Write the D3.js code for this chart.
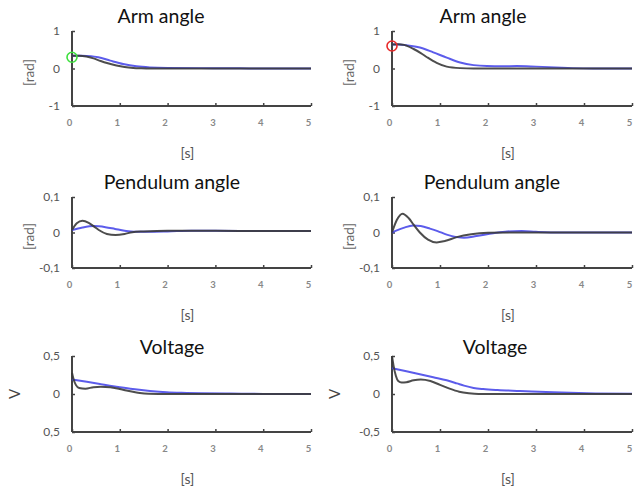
<!DOCTYPE html>
<html><head><meta charset="utf-8">
<script src="https://cdn.jsdelivr.net/npm/d3@7"></script>
<style>html,body{margin:0;padding:0;background:#fff;}svg{display:block;}</style>
</head><body>
<svg id="c" width="643" height="492"></svg>
<script>
// ---- data ----
const xTicks = [0, 1, 2, 3, 4, 5];
const titles = ["Arm angle", "Pendulum angle", "Voltage"];
const yLabels = ["[rad]", "[rad]", "V"];
const yTicksArm = [-1, 0, 1];
const yTickLabelsArm = ["-1", "0", "1"];
const yTicksPend = [-0.1, 0, 0.1];
const yTickLabelsPend = ["-0,1", "0", "0,1"];
const yTicksVolt = [-0.5, 0, 0.5];
const yTickLabelsVoltLeft = ["0,5", "0", "0,5"];
const yTickLabelsVoltRight = ["-0,5", "0", "0,5"];

// Arm angle, left (initial 0.3 rad)
const armL_t_black = [0, 0.15, 0.3, 0.45, 0.6, 0.75, 0.93, 1.1, 1.28, 1.45, 1.65, 2, 3, 4, 5];
const armL_black   = [0.34, 0.34, 0.32, 0.27, 0.2, 0.14, 0.08, 0.04, 0.015, 0.005, 0, 0, 0, 0, 0];
const armL_t_blue  = [0, 0.2, 0.4, 0.55, 0.8, 1.07, 1.35, 1.63, 2.0, 2.7, 3.3, 3.8, 4.5, 5];
const armL_blue    = [0.34, 0.34, 0.33, 0.3, 0.21, 0.12, 0.06, 0.03, 0.015, 0.01, 0.008, 0.002, 0, 0];
// Arm angle, right (initial 0.6 rad)
const armR_t_black = [0, 0.12, 0.25, 0.45, 0.6, 0.73, 0.93, 1.14, 1.42, 1.7, 2, 3, 4, 5];
const armR_black   = [0.64, 0.65, 0.63, 0.52, 0.41, 0.3, 0.15, 0.05, 0.01, 0, 0, 0, 0, 0];
const armR_t_blue  = [0, 0.15, 0.3, 0.58, 0.86, 1.14, 1.42, 1.7, 1.98, 2.3, 2.6, 3.0, 3.4, 3.75, 4.2, 5];
const armR_blue    = [0.64, 0.64, 0.62, 0.56, 0.43, 0.29, 0.16, 0.09, 0.065, 0.06, 0.065, 0.05, 0.03, 0.01, 0, 0];
// Pendulum angle, left
const pendL_t_black = [0, 0.1, 0.22, 0.35, 0.45, 0.56, 0.73, 0.91, 1.1, 1.26, 1.5, 2.0, 3.0, 4.0, 5.0];
const pendL_black   = [0.007, 0.026, 0.033, 0.027, 0.018, 0.007, -0.004, -0.007, -0.004, 0.001, 0.003, 0.005, 0.005, 0.004, 0.004];
const pendL_t_blue  = [0, 0.22, 0.46, 0.7, 0.9, 1.1, 1.3, 1.6, 2.0, 2.5, 3.0, 4.0, 5.0];
const pendL_blue    = [0.007, 0.014, 0.018, 0.015, 0.01, 0.005, 0.002, 0.002, 0.003, 0.005, 0.005, 0.004, 0.004];
// Pendulum angle, right
const pendR_t_black = [0, 0.1, 0.22, 0.35, 0.45, 0.58, 0.75, 0.93, 1.1, 1.35, 1.65, 2.0, 2.5, 3.0, 4.0, 5.0];
const pendR_black   = [0, 0.035, 0.053, 0.04, 0.022, 0.0, -0.02, -0.028, -0.024, -0.013, -0.005, -0.001, 0, 0, 0, 0];
const pendR_t_blue  = [0, 0.24, 0.44, 0.6, 0.79, 0.95, 1.14, 1.35, 1.5, 1.76, 2.11, 2.4, 2.7, 3.0, 3.5, 4.0, 5.0];
const pendR_blue    = [0, 0.013, 0.02, 0.018, 0.011, 0.004, -0.006, -0.013, -0.015, -0.01, -0.002, 0.003, 0.004, 0.002, 0, 0, 0];
// Voltage, left
const voltL_t_black = [0, 0.03, 0.08, 0.15, 0.28, 0.45, 0.6, 0.8, 1.0, 1.14, 1.3, 1.42, 1.6, 2, 3, 4, 5];
const voltL_black   = [0.28, 0.2, 0.12, 0.08, 0.07, 0.09, 0.097, 0.09, 0.065, 0.045, 0.025, 0.012, 0.003, 0, 0, 0, 0];
const voltL_t_blue  = [0, 0.31, 0.6, 0.79, 1.0, 1.27, 1.63, 1.98, 2.4, 2.7, 3.3, 4.0, 5.0];
const voltL_blue    = [0.19, 0.16, 0.13, 0.11, 0.09, 0.066, 0.04, 0.022, 0.014, 0.01, 0.005, 0.001, 0];
// Voltage, right
const voltR_t_black = [0, 0.03, 0.08, 0.13, 0.2, 0.3, 0.45, 0.6, 0.8, 1.0, 1.2, 1.4, 1.6, 1.8, 2.5, 3.5, 5];
const voltR_black   = [0.5, 0.38, 0.24, 0.17, 0.15, 0.155, 0.18, 0.19, 0.17, 0.12, 0.07, 0.03, 0.01, 0, 0, 0, 0];
const voltR_t_blue  = [0, 0.3, 0.58, 0.86, 1.14, 1.35, 1.5, 1.7, 1.9, 2.2, 2.67, 3.36, 4.06, 5.0];
const voltR_blue    = [0.34, 0.3, 0.26, 0.22, 0.18, 0.14, 0.11, 0.08, 0.065, 0.052, 0.04, 0.022, 0.01, 0.004];

// ---- drawing ----
const svg = d3.select("#c");
const cols = [{x0: 72, x1: 311}, {x0: 392, x1: 632}];
const rows = [{y0: 31, y1: 106}, {y0: 197, y1: 268}, {y0: 356, y1: 432}];
const FONT = "Lato, 'Open Sans', sans-serif";

function panel(ci, ri, yDomain, yTicks, yTickLabels, blackT, blackV, blueT, blueV, marker) {
  const c = cols[ci], r = rows[ri];
  const x = d3.scaleLinear().domain([0, 5]).range([c.x0, c.x1]);
  const y = d3.scaleLinear().domain(yDomain).range([r.y1, r.y0]);
  const g = svg.append("g");

  // title
  g.append("text").attr("x", ci === 0 ? [161, 172, 172][ri] : [483, 492, 495][ri])
    .attr("y", [23, 189, 354][ri])
    .attr("text-anchor", "middle").attr("font-family", FONT)
    .attr("font-size", 19.5).attr("fill", "#111").text(titles[ri]);

  // axes
  const xAxis = d3.axisBottom(x).tickValues(xTicks).tickSize(-3).tickPadding(13).tickFormat(d3.format("d"));
  const xg = g.append("g").attr("transform", `translate(0,${r.y1})`).call(xAxis);
  xg.select(".domain").attr("stroke", "#444").attr("stroke-width", 2).attr("d", `M${c.x0},0H${c.x1}`);
  xg.selectAll(".tick line").attr("stroke", "#444").attr("stroke-width", 1.5);
  xg.selectAll(".tick text").attr("font-family", FONT).attr("font-size", 9.5).attr("font-weight", "bold")
    .attr("fill", "#888").attr("dx", -3);

  const yAxis = d3.axisLeft(y).tickValues(yTicks).tickSize(-3).tickPadding(12)
    .tickFormat((d, i) => yTickLabels[i]);
  const yg = g.append("g").attr("transform", `translate(${c.x0},0)`).call(yAxis);
  yg.select(".domain").attr("stroke", "#444").attr("stroke-width", 2).attr("d", `M0,${r.y0}V${r.y1}`);
  yg.selectAll(".tick line").attr("stroke", "#444").attr("stroke-width", 1.5);
  yg.selectAll(".tick text").attr("font-family", FONT).attr("font-size", 12).attr("fill", "#555");

  // axis labels
  g.append("text").attr("x", (c.x0 + c.x1) / 2 - 4).attr("y", r.y1 + 52)
    .attr("text-anchor", "middle").attr("font-family", FONT).attr("font-size", 14)
    .attr("fill", "#555").text("[s]");
  const ylx = ri === 2 ? c.x0 - 52 : c.x0 - 38;
  const yly = ri === 2 ? y(0) : y(0) + 4;
  g.append("text").attr("transform", `translate(${ylx},${yly}) rotate(-90)`)
    .attr("text-anchor", "middle").attr("font-family", FONT)
    .attr("font-size", ri === 2 ? 15 : 13.5).attr("fill", ri === 2 ? "#444" : "#666")
    .text(yLabels[ri]);

  const line = d3.line().x(d => x(d[0])).y(d => y(d[1])).curve(d3.curveMonotoneX);
  g.append("path").datum(blueT.map((t, i) => [t, blueV[i]])).attr("d", line)
    .attr("fill", "none").attr("stroke", "#3f3fe8").attr("stroke-width", 2).attr("stroke-opacity", 0.85);
  g.append("path").datum(blackT.map((t, i) => [t, blackV[i]])).attr("d", line)
    .attr("fill", "none").attr("stroke", "#3a3a3a").attr("stroke-width", 2).attr("stroke-opacity", 0.9);

  if (marker) {
    g.append("circle").attr("cx", x(marker.t)).attr("cy", y(marker.v)).attr("r", 5)
      .attr("fill", "none").attr("stroke", marker.color).attr("stroke-width", 1.6);
  }
}

panel(0, 0, [-1, 1], yTicksArm, yTickLabelsArm, armL_t_black, armL_black, armL_t_blue, armL_blue, {t: 0, v: 0.3, color: "#3ee03e"});
panel(1, 0, [-1, 1], yTicksArm, yTickLabelsArm, armR_t_black, armR_black, armR_t_blue, armR_blue, {t: 0, v: 0.6, color: "#e82a2a"});
panel(0, 1, [-0.1, 0.1], yTicksPend, yTickLabelsPend, pendL_t_black, pendL_black, pendL_t_blue, pendL_blue, null);
panel(1, 1, [-0.1, 0.1], yTicksPend, yTickLabelsPend, pendR_t_black, pendR_black, pendR_t_blue, pendR_blue, null);
panel(0, 2, [-0.5, 0.5], yTicksVolt, yTickLabelsVoltLeft, voltL_t_black, voltL_black, voltL_t_blue, voltL_blue, null);
panel(1, 2, [-0.5, 0.5], yTicksVolt, yTickLabelsVoltRight, voltR_t_black, voltR_black, voltR_t_blue, voltR_blue, null);
</script>
</body></html>
